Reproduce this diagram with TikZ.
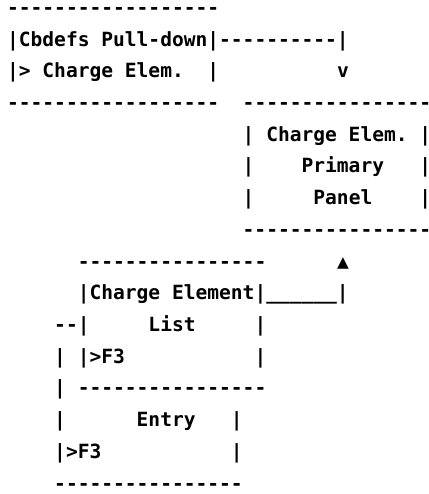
\documentclass[tikz,border=0pt]{standalone}
\usepackage{fontspec}
\setmonofont{DejaVu Sans Mono}
\frenchspacing

\begin{document}
\begin{tikzpicture}[x=1pt, y=-1pt,
  ascii/.style={anchor=base west, inner sep=0pt, outer sep=0pt,
    font=\ttfamily\bfseries\fontsize{19.57pt}{31.7pt}\selectfont}]
 \useasboundingbox (0,0) rectangle (428,494);
 % pull-down box
 \node[ascii] (l0) at (7.11,14.5) {------------------};
 \node[ascii] (l1) at (7.11,46.2) {|Cbdefs Pull-down|----------|};
 \node[ascii] (l2) at (7.11,77.9) {|> Charge Elem.~~|~~~~~~~~~~v};
 \node[ascii] (l3) at (7.11,109.6) {------------------~~----------------};
 % primary panel
 \node[ascii] (l4) at (242.71,141.3) {| Charge Elem. |};
 \node[ascii] (l5) at (242.71,173.0) {|~~~~Primary~~~|};
 \node[ascii] (l6) at (242.71,204.7) {|~~~~~Panel~~~~|};
 \node[ascii] (l7) at (242.71,236.4) {----------------};
 % list and entry
 \node[ascii] (l8) at (77.79,268.1) {----------------~~~~~~\char"25B2};
 \node[ascii] (l9) at (77.79,299.8) {|Charge Element|\_\_\_\_\_\_|};
 \node[ascii] (l10) at (54.23,331.5) {--|~~~~~List~~~~~|};
 \node[ascii] (l11) at (54.23,363.2) {|~|>F3~~~~~~~~~~~|};
 \node[ascii] (l12) at (54.23,394.9) {|~----------------};
 \node[ascii] (l13) at (54.23,426.6) {|~~~~~~Entry~~~|};
 \node[ascii] (l14) at (54.23,458.3) {|>F3~~~~~~~~~~~|};
 \node[ascii] (l15) at (54.23,490.0) {----------------};
\end{tikzpicture}
\end{document}
